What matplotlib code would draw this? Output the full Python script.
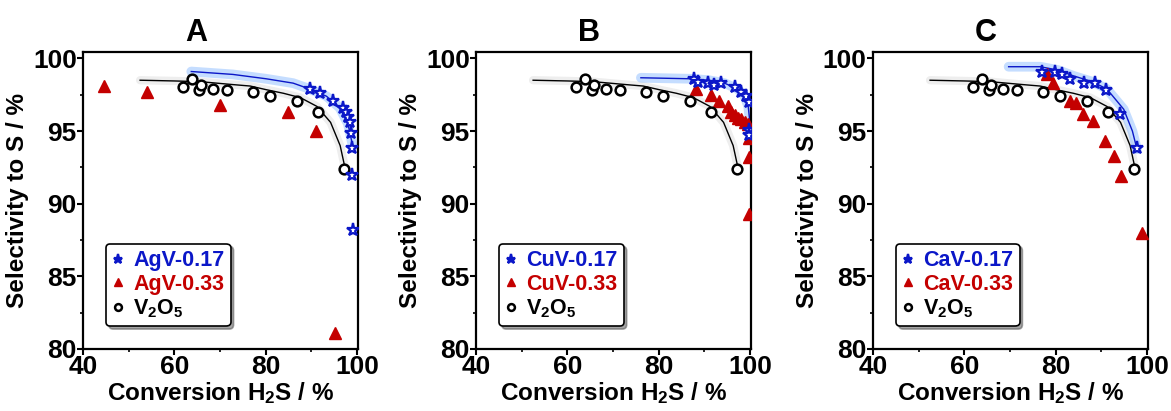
import matplotlib
matplotlib.use('Agg')
import matplotlib.pyplot as plt

plt.rcParams['font.family'] = ['Liberation Sans', 'DejaVu Sans']
plt.rcParams['font.weight'] = 'bold'
plt.rcParams['mathtext.fontset'] = 'custom'
plt.rcParams['mathtext.bf'] = 'Liberation Sans:bold'
plt.rcParams['mathtext.rm'] = 'Liberation Sans:bold'
plt.rcParams['mathtext.default'] = 'bf'

BLUE = '#0b17c8'
RED = '#c40000'

# V2O5 reference (same in every panel)
v2o5_x = [61.9, 63.9, 65.3, 65.8, 68.5, 71.5, 77.3, 80.9, 86.9, 91.5, 97.2]
v2o5_y = [98.0, 98.6, 97.8, 98.2, 97.9, 97.8, 97.7, 97.4, 97.1, 96.3, 92.4]
v2o5_fit_x = [52.5, 60.0, 65.7, 72.8, 76.6, 80.1, 83.9, 87.6, 91.2, 94.2, 96.3, 97.2]
v2o5_fit_y = [98.5, 98.45, 98.4, 98.2, 98.1, 97.85, 97.6, 97.3, 96.7, 95.6, 94.0, 92.7]

# panel A
agv17_x = [89.6, 91.8, 94.7, 96.9, 97.5, 98.0, 98.4, 98.6, 98.8, 99.0, 99.2]
agv17_y = [97.9, 97.6, 97.1, 96.6, 96.3, 96.0, 95.6, 94.9, 93.8, 92.0, 88.2]
agv33_x = [44.7, 53.9, 70.1, 84.9, 91.1, 95.1]
agv33_y = [98.1, 97.7, 96.8, 96.3, 95.0, 81.1]
agv17_fit_x = [63.7, 72.8, 80.1, 86.0, 89.6, 93.3, 96.2, 98.0, 99.1]
agv17_fit_y = [99.1, 98.9, 98.6, 98.3, 97.9, 97.4, 96.6, 95.5, 93.9]

# panel B
cuv17_x = [87.8, 88.5, 90.7, 92.2, 93.6, 96.6, 98.0, 99.1, 99.8, 99.7, 99.8]
cuv17_y = [98.6, 98.4, 98.3, 98.2, 98.3, 98.0, 97.7, 97.4, 97.0, 95.1, 94.7]
cuv33_x = [88.1, 91.4, 93.3, 95.1, 95.8, 96.6, 97.3, 98.0, 98.8, 99.5, 99.8, 99.8, 99.8]
cuv33_y = [97.9, 97.5, 97.1, 96.7, 96.3, 96.1, 95.9, 95.8, 95.6, 95.5, 94.5, 93.2, 89.3]
cuv17_fit_x = [76.1, 87.0, 91.0, 94.4, 97.3, 98.8, 99.6, 100.0]
cuv17_fit_y = [98.67, 98.6, 98.5, 98.3, 97.9, 97.4, 96.7, 95.5]

# panel C
cav17_x = [77.0, 79.9, 81.4, 83.2, 86.1, 88.7, 91.1, 94.0, 97.7]
cav17_y = [99.1, 99.1, 98.9, 98.6, 98.3, 98.3, 97.8, 96.2, 93.8]
cav33_x = [78.0, 79.5, 83.1, 84.5, 86.0, 88.2, 90.7, 92.7, 94.4, 98.9]
cav33_y = [98.9, 98.3, 97.1, 96.9, 96.2, 95.7, 94.3, 93.3, 91.9, 88.0]
cav17_fit_x = [69.7, 76.6, 80.5, 83.9, 88.0, 91.2, 94.9, 96.8, 97.8]
cav17_fit_y = [99.43, 99.43, 99.2, 98.8, 98.4, 97.9, 96.5, 95.0, 93.75]

panels = [
    ('A', 'AgV', agv17_x, agv17_y, agv33_x, agv33_y, agv17_fit_x, agv17_fit_y),
    ('B', 'CuV', cuv17_x, cuv17_y, cuv33_x, cuv33_y, cuv17_fit_x, cuv17_fit_y),
    ('C', 'CaV', cav17_x, cav17_y, cav33_x, cav33_y, cav17_fit_x, cav17_fit_y),
]
lefts = [0.0709, 0.4065, 0.7455]

fig = plt.figure(figsize=(11.71, 4.11), dpi=100)

for left, (tag, name, sx, sy, tx, ty, fx, fy) in zip(lefts, panels):
    ax = fig.add_axes([left, 0.151, 0.2348, 0.722])

    # fitted guide lines with a soft glow
    ax.plot(v2o5_fit_x, v2o5_fit_y, color='#aaaaaa', lw=6, alpha=0.2,
            solid_capstyle='round', zorder=1)
    ax.plot(v2o5_fit_x, v2o5_fit_y, color='black', lw=1.0, zorder=2)
    ax.plot(fx, fy, color='#5aa0ff', lw=7, alpha=0.35,
            solid_capstyle='round', zorder=1)
    ax.plot(fx, fy, color=BLUE, lw=1.0, zorder=2)

    h1, = ax.plot(sx, sy, '*', ms=9.5, mfc='white', mec=BLUE, mew=1.6,
                  ls='none', zorder=4)
    h2, = ax.plot(tx, ty, '^', ms=9, color=RED, ls='none', zorder=3)
    h3, = ax.plot(v2o5_x, v2o5_y, 'o', ms=7, mfc='white', mec='black',
                  mew=1.8, ls='none', zorder=3)

    ax.set_xlim(40, 100.2)
    ax.set_ylim(80, 100.43)
    ax.set_xticks([40, 60, 80, 100])
    ax.set_xticks([50, 70, 90], minor=True)
    ax.set_yticks([80, 85, 90, 95, 100])
    ax.set_yticks([82.5, 87.5, 92.5, 97.5], minor=True)
    ax.tick_params(which='major', direction='out', length=4, width=1.5,
                   labelsize=19, pad=0.5)
    ax.tick_params(which='minor', direction='out', length=2.5, width=1.2)
    ax.tick_params(top=False, right=False)
    for sp in ax.spines.values():
        sp.set_linewidth(1.6)

    ax.set_xlabel('Conversion H$_2$S / %', fontsize=17.5, fontweight='bold',
                  labelpad=1)
    ax.set_ylabel('Selectivity to S / %', fontsize=17.5, fontweight='bold',
                  labelpad=3)
    ax.set_title(tag, fontsize=22, fontweight='bold', x=0.41, pad=8)

    leg = ax.legend([h1, h2, h3],
                    [name + '-0.17', name + '-0.33', 'V$_2$O$_5$'],
                    loc='lower left', bbox_to_anchor=(0.045, 0.04),
                    prop={'weight': 'bold', 'size': 15.5},
                    frameon=True, fancybox=True, shadow=True,
                    markerscale=0.7,
                    handlelength=0.5, handletextpad=0.45, labelspacing=0.12,
                    borderpad=0.3, labelcolor=[BLUE, RED, 'black'])
    leg.legend_handles[0].set_markerfacecolor(BLUE)
    leg.get_frame().set_edgecolor('black')
    leg.get_frame().set_linewidth(1.2)

fig.savefig('out.png', dpi=100)
